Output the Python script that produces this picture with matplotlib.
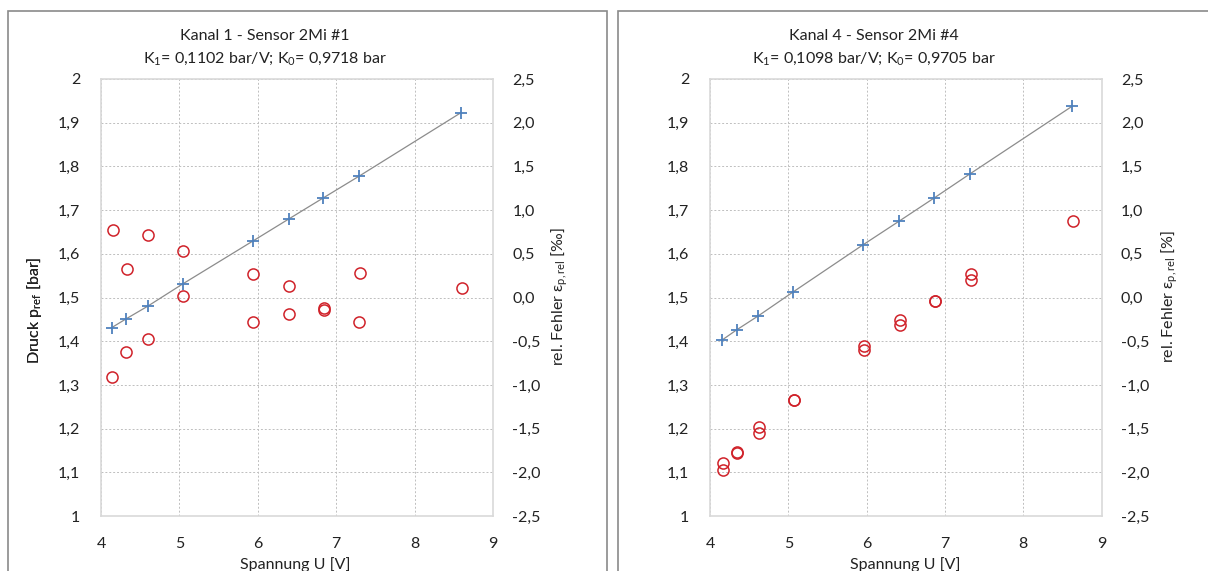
import numpy as np
import matplotlib.pyplot as plt
from matplotlib.patches import Rectangle
from matplotlib.ticker import FixedLocator

plt.rcParams['font.family'] = ['Lato', 'DejaVu Sans']
plt.rcParams['mathtext.fontset'] = 'custom'
plt.rcParams['mathtext.rm'] = 'Lato'
plt.rcParams['mathtext.it'] = 'Lato:italic'

# Kanal 1 - Sensor 2Mi #1
u1 = [4.136, 4.319, 4.595, 5.042, 5.935, 6.398, 6.836, 7.295, 8.592]
p1 = [1.431, 1.451, 1.480, 1.531, 1.629, 1.680, 1.728, 1.778, 1.923]
eu1 = [4.149, 4.136, 4.336, 4.319, 4.604, 4.595, 5.050, 5.042, 5.943, 5.939,
       6.402, 6.398, 6.845, 6.845, 7.304, 7.291, 8.600]
ev1 = [0.77, -0.91, 0.33, -0.62, 0.71, -0.47, 0.53, 0.02, 0.27, -0.28,
       0.13, -0.19, -0.12, -0.14, 0.28, -0.28, 0.11]

# Kanal 4 - Sensor 2Mi #4
u4 = [4.157, 4.341, 4.617, 5.064, 5.958, 6.418, 6.865, 7.321, 8.628]
p4 = [1.403, 1.426, 1.458, 1.513, 1.621, 1.675, 1.728, 1.783, 1.938]
eu4 = [4.17, 4.17, 4.35, 4.35, 4.63, 4.63, 5.075, 5.075, 5.97, 5.97,
       6.425, 6.425, 6.87, 6.87, 7.33, 7.33, 8.63]
ev4 = [-1.89, -1.97, -1.77, -1.78, -1.48, -1.55, -1.17, -1.17, -0.56, -0.60,
       -0.26, -0.32, -0.04, -0.04, 0.27, 0.20, 0.88]

titles = ["Kanal 1 - Sensor 2Mi #1\nK$_1$= 0,1102 bar/V; K$_0$= 0,9718 bar",
          "Kanal 4 - Sensor 2Mi #4\nK$_1$= 0,1098 bar/V; K$_0$= 0,9705 bar"]
err_labels = ["rel. Fehler ε$_{\\mathrm{p,rel}}$ [‰]",
              "rel. Fehler ε$_{\\mathrm{p,rel}}$ [%]"]

W, H = 1208, 571
fig = plt.figure(figsize=(W / 100, H / 100), dpi=100)

blue = '#4f81bd'
red = '#d0222a'
fs = 11.5

def fx(px):
    return px / W

def fy(py):
    return 1 - py / H

panels = [(101, 493, u1, p1, eu1, ev1, 265, 35, 560, 295),
          (710, 1101.5, u4, p4, eu4, ev4, 874, 35, 1170, 905)]

for k, (x0, x1, u, p, eu, ev, tx, ylx, yrx, xlx) in enumerate(panels):
    ax = fig.add_axes([fx(x0), fy(516), fx(x1 - x0), (516 - 79) / H])
    ax.set_xlim(4, 9)
    ax.set_ylim(1, 2)
    yt = np.round(np.arange(1, 2.001, 0.1), 1)
    ax.yaxis.set_major_locator(FixedLocator(yt))
    ax.set_yticklabels([('%g' % v).replace('.', ',') for v in yt])
    ax.set_xticks(range(4, 10))
    ax.grid(True, color='#bfbfbf', lw=0.7, ls=(0, (2, 2)))
    ax.tick_params(length=0, labelsize=fs, pad=15, colors='#222222')
    for s in ax.spines.values():
        s.set_color('#d9d9d9')
        s.set_linewidth(1.2)
    ax.plot(u, p, '-', color='#8c8c8c', lw=0.9, zorder=2)
    ax.plot(u, p, '+', color=blue, ms=9, mew=1.3, zorder=3)

    ax2 = ax.twinx()
    ax2.set_ylim(-2.5, 2.5)
    rt = np.round(np.arange(-2.5, 2.501, 0.5), 1)
    ax2.yaxis.set_major_locator(FixedLocator(rt))
    ax2.set_yticklabels([('%.1f' % v).replace('.', ',') for v in rt])
    ax2.tick_params(length=0, labelsize=fs, pad=14, colors='#222222')
    for s in ax2.spines.values():
        s.set_visible(False)
    ax2.plot(eu, ev, 'o', mfc='none', mec=red, ms=8, mew=1.1, zorder=4)

    fig.text(fx(tx), fy(48), titles[k], ha='center', va='center',
             fontsize=fs, linespacing=1.5, color='#222222')
    fig.text(fx(ylx), fy(310), "Druck p$_{\\mathrm{ref}}$ [bar]", rotation=90,
             ha='center', va='center', fontsize=fs, color='#222222')
    fig.text(fx(yrx), fy(297), err_labels[k], rotation=90,
             ha='center', va='center', fontsize=fs, color='#222222')
    fig.text(fx(xlx), fy(565), "Spannung U [V]", ha='center', va='center',
             fontsize=fs, color='#222222')

# chart area frames
fig.patches.append(Rectangle((fx(8), fy(600)), fx(598.5), (600 - 11) / H,
                             transform=fig.transFigure, fill=False,
                             ec='#8a8a8a', lw=1.2))
fig.patches.append(Rectangle((fx(617.5), fy(600)), fx(620), (600 - 11) / H,
                             transform=fig.transFigure, fill=False,
                             ec='#8a8a8a', lw=1.2))

plt.savefig('out.png', dpi=100)
